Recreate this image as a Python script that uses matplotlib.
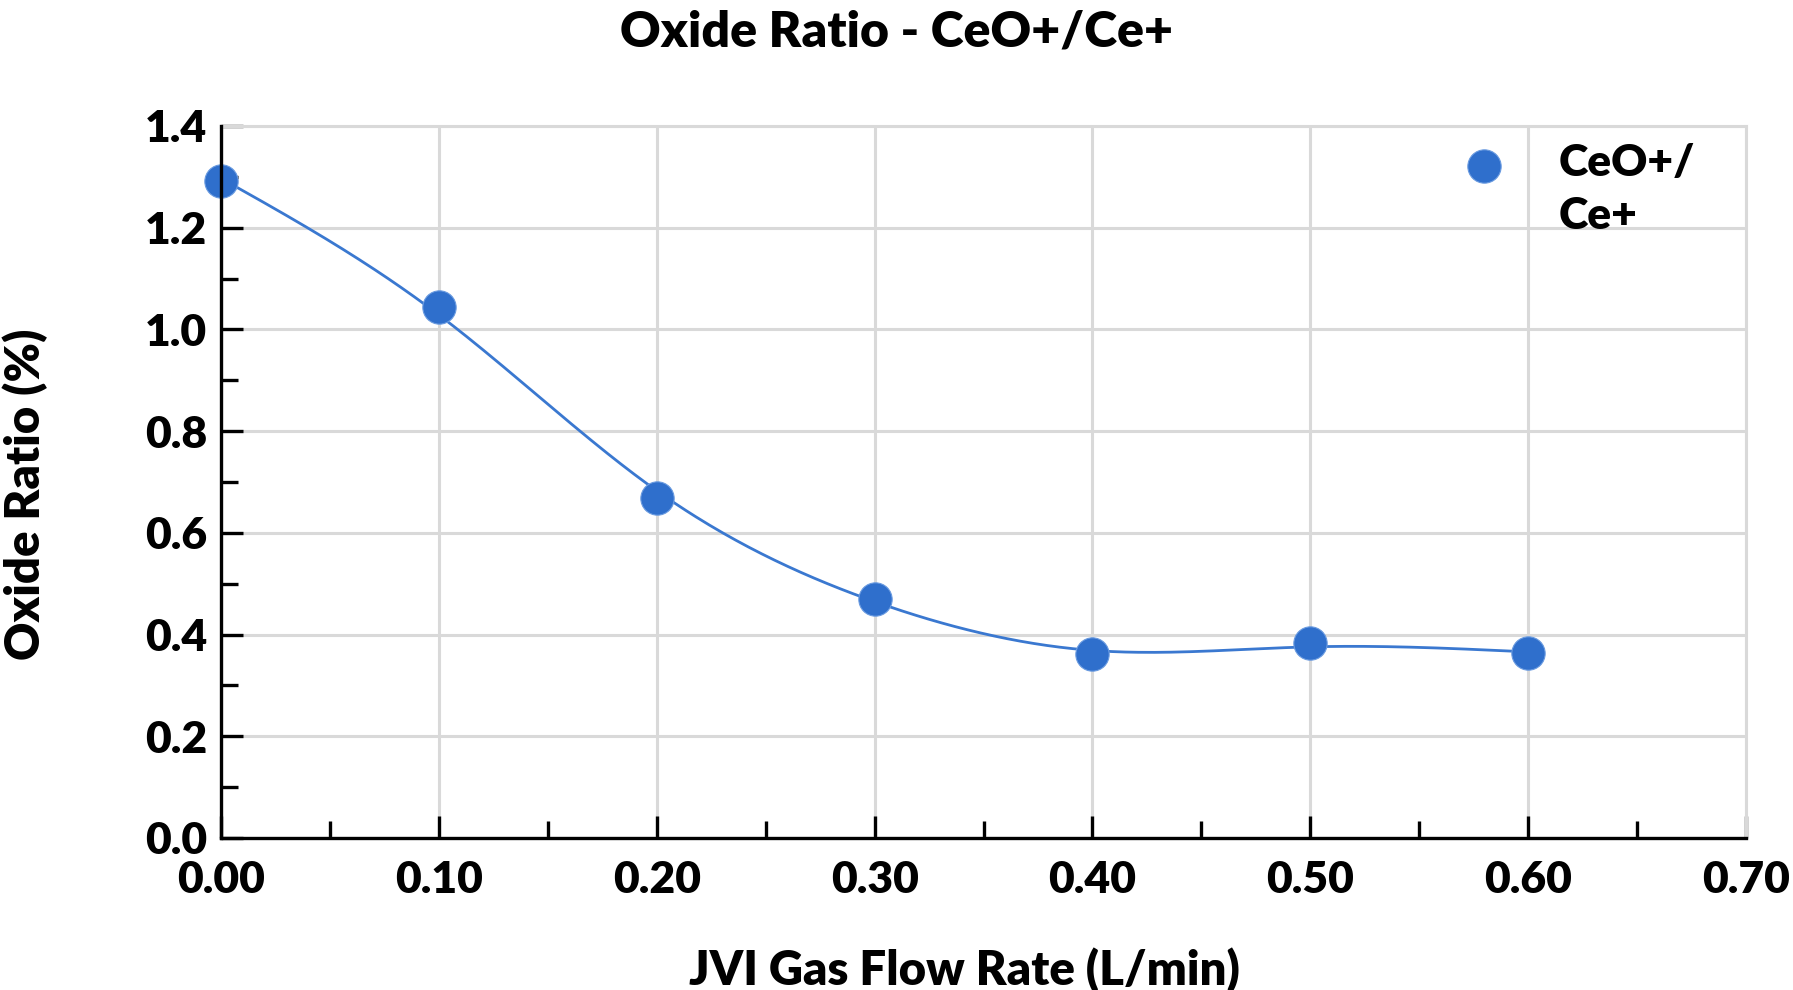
import numpy as np
import matplotlib.pyplot as plt
from matplotlib.ticker import MultipleLocator, FormatStrFormatter
from matplotlib import font_manager

plt.rcParams['font.family'] = ['Lato', 'DejaVu Sans']

# data
flow = [0.0, 0.1, 0.2, 0.3, 0.4, 0.5, 0.6]
ratio = [1.292, 1.045, 0.668, 0.470, 0.361, 0.384, 0.364]
series_name = "CeO+/\nCe+"

lato = sorted(set(f.weight for f in font_manager.fontManager.ttflist if f.name == "Lato"))
W = "heavy" if any(isinstance(w, int) and w >= 800 for w in lato) else "bold"


def smoothing_spline(x, y, lam, n=400):
    # cubic smoothing spline (Reinsch), the fitted line drawn under the points
    x = np.asarray(x, float)
    y = np.asarray(y, float)
    k = len(x)
    h = np.diff(x)
    Q = np.zeros((k, k - 2))
    R = np.zeros((k - 2, k - 2))
    for j in range(1, k - 1):
        Q[j - 1, j - 1] = 1 / h[j - 1]
        Q[j, j - 1] = -1 / h[j - 1] - 1 / h[j]
        Q[j + 1, j - 1] = 1 / h[j]
        R[j - 1, j - 1] = (h[j - 1] + h[j]) / 3
        if j < k - 2:
            R[j - 1, j] = R[j, j - 1] = h[j] / 6
    gam = np.linalg.solve(R + lam * Q.T @ Q, Q.T @ y)
    g = y - lam * Q @ gam
    m = np.concatenate([[0], gam, [0]])
    xs = np.linspace(x[0], x[-1], n)
    idx = np.clip(np.searchsorted(x, xs) - 1, 0, k - 2)
    x0, x1 = x[idx], x[idx + 1]
    hh = x1 - x0
    a = (x1 - xs) / hh
    b = (xs - x0) / hh
    ys = a * g[idx] + b * g[idx + 1] + ((a ** 3 - a) * m[idx] + (b ** 3 - b) * m[idx + 1]) * hh ** 2 / 6
    return xs, ys


fig = plt.figure(figsize=(17.93, 9.90), dpi=100)
ax = fig.add_axes([221 / 1793, 1 - 838 / 990, (1746 - 221) / 1793, (838 - 126) / 990])

sx, sy = smoothing_spline(flow, ratio, 3e-5)
ax.plot(sx, sy, color="#3a78d0", lw=2.0, zorder=3)
ax.plot(flow, ratio, "o", ms=24, color="#2f6fcc", mec="#6a9be0", mew=0.8,
        linestyle="none", zorder=4, clip_on=False)

ax.set_xlim(0, 0.70)
ax.set_ylim(0, 1.4)
ax.xaxis.set_major_locator(MultipleLocator(0.1))
ax.xaxis.set_minor_locator(MultipleLocator(0.05))
ax.yaxis.set_major_locator(MultipleLocator(0.2))
ax.yaxis.set_minor_locator(MultipleLocator(0.1))
ax.xaxis.set_major_formatter(FormatStrFormatter("%.2f"))
ax.yaxis.set_major_formatter(FormatStrFormatter("%.1f"))

ax.grid(True, which="major", color="#d9d9d9", lw=2.2, zorder=0)
ax.set_axisbelow(True)
for s in ["top", "right"]:
    ax.spines[s].set_color("#d9d9d9")
    ax.spines[s].set_linewidth(2.2)
for s in ["left", "bottom"]:
    ax.spines[s].set_color("black")
    ax.spines[s].set_linewidth(2.4)
    ax.spines[s].set_zorder(5)

ax.tick_params(which="major", direction="in", length=16, width=2.4, labelsize=32)
ax.tick_params(which="minor", direction="in", length=12, width=2.4)
ax.tick_params(axis="x", which="major", pad=16)
ax.tick_params(axis="y", which="major", pad=10)
for lab in ax.get_xticklabels() + ax.get_yticklabels():
    lab.set_fontweight(W)

fig.text(0.5, 1 - 32 / 990, "Oxide Ratio - CeO+/Ce+", ha="center", va="center",
         fontsize=36, fontweight=W)
fig.text(964 / 1793, 1 - 970 / 990, "JVI Gas Flow Rate (L/min)", ha="center", va="center",
         fontsize=34, fontweight=W)
fig.text(25 / 1793, 1 - 494 / 990, "Oxide Ratio (%)", ha="center", va="center",
         rotation=90, fontsize=34, fontweight=W)

# legend, drawn by hand so the marker sits by the first line
ax.plot([1484 / 1793], [1 - 166 / 990], "o", ms=24, color="#2f6fcc", mec="#6a9be0",
        mew=0.8, transform=fig.transFigure, clip_on=False, zorder=6)
fig.text(1559 / 1793, 1 - 143 / 990, series_name, ha="left", va="top",
         fontsize=32, fontweight=W, linespacing=1.4)

fig.savefig("out.png", dpi=100)
